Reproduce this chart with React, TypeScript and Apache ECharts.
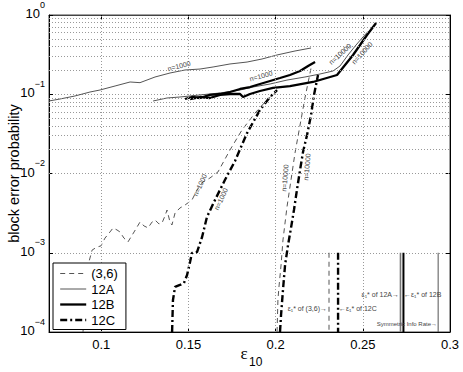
import React, { useEffect, useRef } from 'react';
import * as echarts from 'echarts';

// axis ticks
const xTicks = [0.1, 0.15, 0.2, 0.25, 0.3];
const xGridValues = [0.1, 0.15, 0.2, 0.25];
const yMinorGrid = [
  2e-4, 3e-4, 4e-4, 5e-4, 6e-4, 7e-4, 8e-4, 9e-4,
  2e-3, 3e-3, 4e-3, 5e-3, 6e-3, 7e-3, 8e-3, 9e-3,
  2e-2, 3e-2, 4e-2, 5e-2, 6e-2, 7e-2, 8e-2, 9e-2,
  0.2, 0.3, 0.4, 0.5, 0.6, 0.7, 0.8, 0.9,
];
const legendNames = ['(3,6)', '12A', '12B', '12C'];

// 12A
const a12_n1000 = [
  [0.07, 0.0822], [0.0763, 0.0871], [0.0849, 0.0951], [0.0935, 0.1067], [0.0993, 0.1132],
  [0.1079, 0.1271], [0.1165, 0.1428], [0.1222, 0.14], [0.1308, 0.165], [0.1394, 0.1854],
  [0.148, 0.2023], [0.1566, 0.208], [0.1641, 0.2208], [0.1738, 0.241], [0.1836, 0.255],
  [0.1922, 0.2786], [0.2008, 0.313], [0.2111, 0.3514], [0.2203, 0.3835],
];
const a12_n10000 = [
  [0.1297, 0.0822], [0.1377, 0.0897], [0.1451, 0.0923], [0.1566, 0.098], [0.1681, 0.1037],
  [0.1796, 0.1132], [0.187, 0.1234], [0.1968, 0.1347], [0.2065, 0.151], [0.2168, 0.165],
  [0.2254, 0.18], [0.2329, 0.1965], [0.2369, 0.2272], [0.2415, 0.3129], [0.2461, 0.418],
  [0.2501, 0.528], [0.253, 0.62],
];
// 12B
const b12_n1000 = [
  [0.148, 0.0871], [0.152, 0.0923], [0.1566, 0.0897], [0.1623, 0.098], [0.1681, 0.1007],
  [0.1738, 0.1067], [0.1796, 0.1165], [0.1853, 0.1234], [0.191, 0.1347], [0.1968, 0.147],
  [0.2025, 0.1603], [0.2082, 0.175], [0.214, 0.1965], [0.2186, 0.227], [0.2226, 0.255],
];
const b12_n10000 = [
  [0.1509, 0.0871], [0.1566, 0.0923], [0.1623, 0.0897], [0.1681, 0.098], [0.1738, 0.1007],
  [0.1796, 0.1007], [0.1813, 0.0923], [0.1853, 0.1007], [0.191, 0.1099], [0.1985, 0.12],
  [0.2082, 0.127], [0.2214, 0.1428], [0.2352, 0.175], [0.2398, 0.234], [0.2444, 0.313],
  [0.2484, 0.418], [0.2524, 0.559], [0.2576, 0.792],
];
// (3,6)
const c36_n1000 = [
  [0.0895, 0.0001], [0.0912, 0.000339], [0.0929, 0.000764], [0.0947, 0.00108], [0.0975, 0.00118],
  [0.0998, 0.00122], [0.1021, 0.00153], [0.105, 0.00183], [0.1067, 0.00205], [0.109, 0.00194],
  [0.1107, 0.00183], [0.113, 0.00153], [0.1153, 0.00137], [0.1188, 0.00183], [0.1222, 0.00244],
  [0.1245, 0.00218], [0.1268, 0.00206], [0.1291, 0.00244], [0.1308, 0.00259], [0.1331, 0.00231],
  [0.1348, 0.00237], [0.1365, 0.00291], [0.1377, 0.00346], [0.1394, 0.00244], [0.1405, 0.00224],
  [0.1423, 0.00317], [0.1451, 0.00367], [0.148, 0.004], [0.152, 0.00463], [0.1549, 0.00619],
  [0.1583, 0.00781], [0.1623, 0.00877], [0.1669, 0.01045], [0.1738, 0.0198], [0.1807, 0.0354],
  [0.1882, 0.058], [0.195, 0.0846], [0.2008, 0.11],
];
const c36_n10000 = [
  [0.2008, 0.0001], [0.2013, 0.000253], [0.2019, 0.00037], [0.2031, 0.0007], [0.2042, 0.00145],
  [0.2065, 0.00378], [0.2088, 0.00828], [0.2111, 0.01815], [0.214, 0.0409], [0.2168, 0.0897],
  [0.2203, 0.214],
];
// 12C
const c12_n1000 = [
  [0.1406, 0.0001], [0.1411, 0.000253], [0.1423, 0.00037], [0.1451, 0.000392], [0.1474, 0.000415],
  [0.1492, 0.000524], [0.1509, 0.000764], [0.152, 0.000993], [0.1549, 0.00102], [0.1578, 0.00158],
  [0.1606, 0.00283], [0.1652, 0.00463], [0.1709, 0.00828], [0.1767, 0.0144], [0.1836, 0.0324],
  [0.191, 0.0633], [0.1968, 0.0923], [0.2008, 0.113],
];
const c12_n10000 = [
  [0.2025, 0.0001], [0.2031, 0.000164], [0.2042, 0.000339], [0.2054, 0.0007], [0.2071, 0.00125],
  [0.2088, 0.00205], [0.2105, 0.00346], [0.2122, 0.00619], [0.214, 0.01107], [0.2157, 0.01867],
  [0.218, 0.0306], [0.2203, 0.0547], [0.222, 0.098], [0.2243, 0.175],
];

// thresholds
const thr36 = 0.2306;
const thr12C = 0.2358;
const thr12A = 0.2716;
const thr12B = 0.2733;
const symInfoRate = 0.2932;
const thrTop = 1e-3;
const thrBottom = 1e-4;

const FONT = 'Liberation Sans';

const style36 = { color: '#555', width: 1, type: [5, 4] as any };
const style12A = { color: '#555', width: 1, type: 'solid' as any };
const style12B = { color: '#000', width: 2.3, type: 'solid' as any };
const style12C = { color: '#000', width: 2.4, type: [7, 3, 2, 3] as any };

function lineSeries(name: string, data: number[][], ls: any, z = 3) {
  return {
    type: 'line',
    name,
    data,
    symbol: 'none',
    showSymbol: false,
    color: ls.color,
    lineStyle: ls,
    z,
    animation: false,
  };
}

function vline(name: string, x: number, ls: any) {
  return lineSeries(name, [[x, thrTop], [x, thrBottom]], ls, 3);
}

export default function App() {
  const ref = useRef<HTMLDivElement>(null);
  useEffect(() => {
    const chart = echarts.init(ref.current!, null, { renderer: 'svg' });
    const small = (text: string, x: number, y: number, rotDeg: number, align = 'center') => ({
      type: 'text',
      x,
      y,
      rotation: (rotDeg * Math.PI) / 180,
      z: 10,
      style: { text, fontSize: 7, fontFamily: FONT, fill: '#444', align, verticalAlign: 'middle' },
    });
    const legendStyles: any[] = [
      { width: 1, color: '#555', type: [5, 4] },
      { width: 1, color: '#555', type: 'solid' },
      { width: 2.3, color: '#000', type: 'solid' },
      { width: 2.4, color: '#000', type: [7, 3, 2, 3] },
    ];
    const option: any = {
      animation: false,
      backgroundColor: '#fff',
      grid: {
        left: 49, right: 13, top: 15, bottom: 40, show: true, borderColor: '#444', borderWidth: 1,
        containLabel: false, outerBoundsMode: 'none',
      },
      legend: {
        data: legendNames.map((n, i) => ({ name: n, lineStyle: legendStyles[i] })),
        orient: 'vertical',
        left: 53,
        top: 263,
        padding: [3, 8, 2, 6],
        itemGap: 0.5,
        itemWidth: 26,
        itemHeight: 12,
        backgroundColor: '#fff',
        borderColor: '#000',
        borderWidth: 1,
        itemStyle: { color: 'transparent', borderWidth: 0, opacity: 0 },
        textStyle: { fontSize: 13, fontFamily: FONT, color: '#000', lineHeight: 15 },
        z: 20,
      },
      xAxis: [
        {
          type: 'value', min: 0.07, max: 0.3, position: 'bottom',
          axisLine: { show: true, lineStyle: { color: '#000' } },
          axisTick: { show: true, inside: true, length: 4, customValues: xTicks, lineStyle: { color: '#000' } },
          axisLabel: { customValues: xTicks, fontSize: 13, fontFamily: FONT, color: '#000', margin: 6, formatter: (v: number) => String(v) },
          splitLine: { show: false },
        },
        {
          type: 'value', min: 0.07, max: 0.3, position: 'top',
          axisLine: { show: true, lineStyle: { color: '#444' } },
          axisTick: { show: true, inside: true, length: 4, customValues: xTicks, lineStyle: { color: '#000' } },
          axisLabel: { show: false },
          splitLine: { show: false },
        },
      ],
      yAxis: [
        {
          type: 'log', logBase: 10, min: 1e-4, max: 1, position: 'left',
          axisLine: { show: true, lineStyle: { color: '#000' } },
          axisTick: { show: true, inside: true, length: 4, lineStyle: { color: '#000' } },
          axisLabel: {
            margin: 4,
            padding: [0, 0, 10, 0],
            formatter: (v: number) => {
              const e = Math.round(Math.log10(v));
              return '{b|10}{s|' + (e < 0 ? '\u2212' + Math.abs(e) : String(e)) + '}';
            },
            rich: {
              b: { fontSize: 13, fontFamily: FONT, color: '#000', verticalAlign: 'bottom', lineHeight: 20 },
              s: { fontSize: 9, fontFamily: FONT, color: '#000', verticalAlign: 'top', lineHeight: 10 },
            },
          },
          splitLine: { show: true, lineStyle: { color: '#999', type: [1, 2], width: 1 } },
          name: 'block error probability',
          nameLocation: 'middle',
          nameGap: 28,
          nameMoveOverlap: false,
          nameTextStyle: { fontSize: 14.5, fontFamily: FONT, color: '#000' },
        },
        {
          type: 'log', logBase: 10, min: 1e-4, max: 1, position: 'right',
          axisLine: { show: true, lineStyle: { color: '#000' } },
          axisTick: { show: true, inside: true, length: 4, lineStyle: { color: '#000' } },
          axisLabel: { show: false },
          splitLine: { show: false },
        },
      ],
      series: [
        {
          type: 'line',
          name: 'grid',
          data: [[0.07, 1e-4]],
          symbol: 'none',
          lineStyle: { opacity: 0 },
          z: 1,
          markLine: {
            silent: true,
            symbol: ['none', 'none'],
            label: { show: false },
            lineStyle: { color: '#999', type: [1, 2], width: 1 },
            data: [
              ...yMinorGrid.map((v) => ({ yAxis: v })),
              ...xGridValues.map((v) => ({ xAxis: v })),
            ],
          },
        },
        lineSeries('12A', a12_n1000, style12A),
        lineSeries('12A', a12_n10000, style12A),
        lineSeries('12B', b12_n1000, style12B, 4),
        lineSeries('12B', b12_n10000, style12B, 4),
        lineSeries('(3,6)', c36_n1000, style36),
        lineSeries('(3,6)', c36_n10000, style36),
        lineSeries('12C', c12_n1000, style12C, 4),
        lineSeries('12C', c12_n10000, style12C, 4),
        vline('thr36', thr36, style36),
        vline('thr12C', thr12C, style12C),
        vline('thr12A', thr12A, { color: '#777', width: 1.6, type: 'solid' }),
        vline('thr12B', thr12B, { color: '#000', width: 2, type: 'solid' }),
        vline('sym', symInfoRate, { color: '#555', width: 1, type: 'solid' }),
      ],
      graphic: [
        small('n=1000', 179, 66, 14),
        small('n=1000', 261, 76, 15),
        small('n=10000', 340, 54, 42),
        small('n=10000', 362, 53, 48),
        small('n=1000', 200, 185, 65),
        small('n=1000', 221, 199, 65),
        small('n=10000', 285, 178, 85),
        small('n=10000', 307, 167, 85),
        small('\u03B5\u2081* of (3,6)\u2192', 327, 308, 0, 'right'),
        small('\u2190\u03B5\u2081* of 12C', 339, 308, 0, 'left'),
        small('\u03B5\u2081* of 12A\u2192', 399, 294, 0, 'right'),
        small('\u2190\u03B5\u2081* of 12B', 404, 294, 0, 'left'),
        {
          type: 'text', x: 437, y: 324, z: 10,
          style: { text: 'Symmetric Info Rate\u2192', fontSize: 6, fontFamily: FONT, fill: '#444', align: 'right', verticalAlign: 'middle' },
        },
        {
          type: 'text', x: 244, y: 353, z: 10,
          style: { text: '\u03B5', fontSize: 17, fontFamily: 'Liberation Serif', fill: '#000', align: 'center', verticalAlign: 'middle' },
        },
        {
          type: 'text', x: 249, y: 362, z: 10,
          style: { text: '10', fontSize: 12, fontFamily: FONT, fill: '#000', align: 'left', verticalAlign: 'middle' },
        },
      ],
    };
    chart.setOption(option);
    return () => chart.dispose();
  }, []);
  return <div ref={ref} style={{ position: 'fixed', left: 0, top: 0, width: 463, height: 372 }} />;
}
